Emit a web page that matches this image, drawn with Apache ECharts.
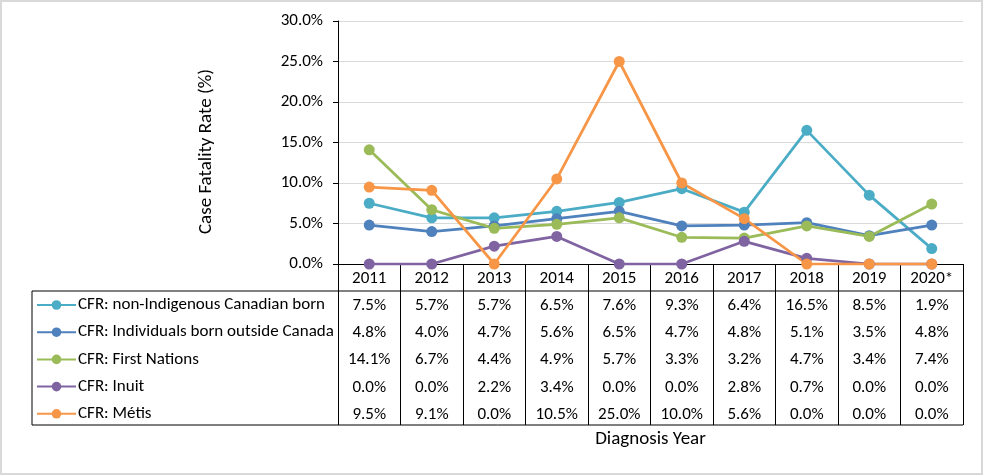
<!DOCTYPE html>
<html>
<head>
<meta charset="utf-8">
<script src="https://cdn.jsdelivr.net/npm/echarts@6/dist/echarts.min.js"></script>
<style>
html,body{margin:0;padding:0;background:#fff;}
#chart{width:984px;height:476px;}
</style>
</head>
<body>
<div id="chart"></div>
<script>
const years = ['2011','2012','2013','2014','2015','2016','2017','2018','2019','2020*'];
const seriesNames = [
  'CFR: non-Indigenous Canadian born',
  'CFR: Individuals born outside Canada',
  'CFR: First Nations',
  'CFR: Inuit',
  'CFR: Métis'
];
const nonIndigenous = [7.5, 5.7, 5.7, 6.5, 7.6, 9.3, 6.4, 16.5, 8.5, 1.9];
const bornOutside   = [4.8, 4.0, 4.7, 5.6, 6.5, 4.7, 4.8, 5.1, 3.5, 4.8];
const firstNations  = [14.1, 6.7, 4.4, 4.9, 5.7, 3.3, 3.2, 4.7, 3.4, 7.4];
const inuit         = [0.0, 0.0, 2.2, 3.4, 0.0, 0.0, 2.8, 0.7, 0.0, 0.0];
const metis         = [9.5, 9.1, 0.0, 10.5, 25.0, 10.0, 5.6, 0.0, 0.0, 0.0];
const yTicks = [0, 5, 10, 15, 20, 25, 30];

const allData = [nonIndigenous, bornOutside, firstNations, inuit, metis];
const colors = ['#4BACC6', '#4F81BD', '#9BBB59', '#8064A2', '#F79646'];

const FONT = 'Carlito, Lato, "Open Sans", sans-serif';
const FS = 17;
const GL = 338, GR = 963, GT = 21, GB = 264;
const ROW = 27.2;
const TABLE_LEFT = 32, TABLE_TOP = 291, TABLE_BOTTOM = 425;

const chart = echarts.init(document.getElementById('chart'), null, {renderer: 'canvas'});

const xAxes = [{
  type: 'category',
  data: years,
  boundaryGap: true,
  position: 'bottom',
  axisLine: {show: true, lineStyle: {color: '#000', width: 1}},
  axisTick: {show: true, interval: 0, length: TABLE_BOTTOM - GB, lineStyle: {color: '#000', width: 1}},
  axisLabel: {interval: 0, margin: 14.5, verticalAlign: 'middle', color: '#000', fontSize: FS, fontFamily: FONT},
  name: 'Diagnosis Year',
  nameLocation: 'middle',
  nameGap: 175,
  nameTextStyle: {color: '#000', fontSize: 19, fontFamily: FONT, verticalAlign: 'middle'},
  splitLine: {show: false}
}];
allData.forEach((arr, k) => {
  xAxes.push({
    type: 'category',
    data: years,
    boundaryGap: true,
    position: 'bottom',
    offset: ROW * (k + 1),
    axisLine: {show: false},
    axisTick: {show: false},
    splitLine: {show: false},
    axisLabel: {
      interval: 0, margin: 14.5, verticalAlign: 'middle', color: '#000', fontSize: FS, fontFamily: FONT,
      formatter: (v, i) => arr[i].toFixed(1) + '%'
    }
  });
});

const option = {
  backgroundColor: '#fff',
  animation: false,
  color: colors,
  grid: {left: GL, right: 984 - GR, top: GT, bottom: 476 - GB, containLabel: false},
  xAxis: xAxes,
  yAxis: {
    type: 'value',
    min: yTicks[0],
    max: yTicks[yTicks.length - 1],
    interval: yTicks[1] - yTicks[0],
    axisLine: {show: true, lineStyle: {color: '#000', width: 1}},
    axisTick: {show: true, length: 5, lineStyle: {color: '#000'}},
    axisLabel: {formatter: v => v.toFixed(1) + '%', color: '#000', fontSize: FS, fontFamily: FONT, margin: 15},
    splitLine: {show: true, lineStyle: {color: '#D9D9D9', width: 1}},
    name: 'Case Fatality Rate (%)',
    nameLocation: 'middle',
    nameGap: 132,
    nameRotate: 90,
    nameTextStyle: {color: '#000', fontSize: 19, fontFamily: FONT, verticalAlign: 'middle', padding: [0, 18, 0, 0]}
  },
  legend: {
    orient: 'vertical',
    left: 36,
    top: TABLE_TOP + 5,
    itemWidth: 39,
    itemHeight: 12,
    itemGap: 9.2,
    padding: 0,
    textStyle: {color: '#000', fontSize: FS, lineHeight: 18, fontFamily: FONT, padding: [0,0,0,-3]},
    data: seriesNames
  },
  series: allData.map((arr, k) => ({
    name: seriesNames[k],
    type: 'line',
    data: arr,
    symbol: 'circle',
    symbolSize: 11,
    lineStyle: {width: 2.75, color: colors[k]},
    itemStyle: {color: colors[k]},
    emphasis: {disabled: true}
  })),
  graphic: [
    {type: 'rect', shape: {x: 1, y: 1, width: 981, height: 473}, style: {fill: 'none', stroke: '#D9D9D9', lineWidth: 2}, silent: true},
    {type: 'line', shape: {x1: TABLE_LEFT, y1: TABLE_TOP, x2: GR, y2: TABLE_TOP}, style: {stroke: '#000', lineWidth: 1}, silent: true},
    {type: 'line', shape: {x1: TABLE_LEFT, y1: TABLE_BOTTOM, x2: GR, y2: TABLE_BOTTOM}, style: {stroke: '#000', lineWidth: 1}, silent: true},
    {type: 'line', shape: {x1: TABLE_LEFT, y1: TABLE_TOP, x2: TABLE_LEFT, y2: TABLE_BOTTOM}, style: {stroke: '#000', lineWidth: 1}, silent: true}
  ]
};
chart.setOption(option);
</script>
</body>
</html>
